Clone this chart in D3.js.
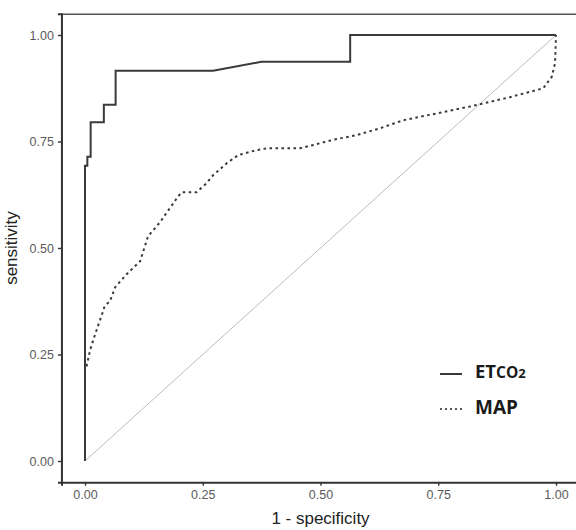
<!DOCTYPE html>
<html>
<head>
<meta charset="utf-8">
<script src="https://cdn.jsdelivr.net/npm/d3@7"></script>
<style>
  body { margin: 0; background: #fff; }
  #roc { width: 576px; height: 530px; }
  .tick text { font-family: "Liberation Sans", Arial, sans-serif; }
</style>
</head>
<body>
<div id="roc"></div>
<script>
// ROC data: 1 - specificity vs sensitivity
var etco2Fpr  = [0, 0, 0.005, 0.005, 0.012, 0.012, 0.040, 0.040, 0.065, 0.065, 0.272, 0.374, 0.563, 0.563, 1];
var etco2Sens = [0, 0.693, 0.693, 0.714, 0.714, 0.795, 0.795, 0.836, 0.836, 0.916, 0.916, 0.937, 0.937, 1, 1];

var mapFpr  = [0, 0, 0.003, 0.011, 0.021, 0.032, 0.042, 0.053, 0.064, 0.089, 0.117, 0.134, 0.159, 0.195, 0.205,
               0.237, 0.258, 0.272, 0.301, 0.325, 0.365, 0.386, 0.456, 0.485, 0.527, 0.577, 0.626, 0.676,
               0.747, 0.817, 0.902, 0.973, 0.991, 0.998, 1];
var mapSens = [0, 0.221, 0.221, 0.261, 0.296, 0.331, 0.364, 0.375, 0.408, 0.439, 0.469, 0.528, 0.560, 0.617, 0.631,
               0.631, 0.652, 0.671, 0.699, 0.718, 0.730, 0.734, 0.734, 0.742, 0.754, 0.765, 0.781, 0.800,
               0.816, 0.832, 0.854, 0.875, 0.902, 0.934, 1];

var tickValues = [0, 0.25, 0.5, 0.75, 1];
var legendLabels = ["ETCO2", "MAP"];

var width = 576;
var height = 530;

var margin = { top: 13.7, right: -3.55, bottom: 47.7, left: 61.45 };

var svg = d3.select("#roc").append("svg")
    .attr("width", width)
    .attr("height", height);

var xScale = d3.scaleLinear()
    .domain([-0.05, 1.05])
    .range([margin.left, width - margin.right]);

var yScale = d3.scaleLinear()
    .domain([-0.05, 1.05])
    .range([height - margin.bottom, margin.top]);

var etco2Data = etco2Fpr.map((d, i) => ({ x: d, y: etco2Sens[i] }));
var mapData = mapFpr.map((d, i) => ({ x: d, y: mapSens[i] }));

var line = d3.line()
    .x(d => xScale(d.x))
    .y(d => yScale(d.y));

// top border of the panel
svg.append("line")
    .attr("x1", margin.left)
    .attr("x2", width)
    .attr("y1", margin.top + 0.5)
    .attr("y2", margin.top + 0.5)
    .attr("stroke", "#555")
    .attr("stroke-width", 1.6);

// reference diagonal
svg.append("path")
    .datum([{ x: 0, y: 0 }, { x: 1, y: 1 }])
    .attr("d", line)
    .attr("fill", "none")
    .attr("stroke", "#aaa")
    .attr("stroke-width", 0.8);

svg.append("path")
    .datum(mapData)
    .attr("d", line)
    .attr("fill", "none")
    .attr("stroke", "#3a3a3a")
    .attr("stroke-width", 2)
    .attr("stroke-dasharray", "2.6,3.4");

svg.append("path")
    .datum(etco2Data)
    .attr("d", line)
    .attr("fill", "none")
    .attr("stroke", "#3a3a3a")
    .attr("stroke-width", 2);

// axes
var xAxis = svg.append("g")
    .attr("transform", `translate(0, ${height - margin.bottom})`)
    .call(d3.axisBottom(xScale).tickValues(tickValues).tickFormat(d3.format(".2f")).tickSizeOuter(0).tickSize(3.5).tickPadding(4));

var yAxis = svg.append("g")
    .attr("transform", `translate(${margin.left}, 0)`)
    .call(d3.axisLeft(yScale).tickValues(tickValues).tickFormat(d3.format(".2f")).tickSizeOuter(0).tickSize(3.5).tickPadding(4));

[xAxis, yAxis].forEach(function (g) {
    g.select(".domain").attr("stroke", "#333").attr("stroke-width", 2);
    g.selectAll(".tick line").attr("stroke", "#333").attr("stroke-width", 1.4);
    g.selectAll(".tick text").attr("fill", "#5a5a5a").style("font-size", "12.5px");
});

// axis titles
svg.append("text")
    .attr("x", (xScale(0) + xScale(1)) / 2)
    .attr("y", 524)
    .attr("text-anchor", "middle")
    .style("font-family", "Liberation Sans, Arial, sans-serif")
    .style("font-size", "17px")
    .attr("fill", "#222")
    .text("1 - specificity");

svg.append("text")
    .attr("transform", `translate(17, ${(yScale(0) + yScale(1)) / 2}) rotate(-90)`)
    .attr("text-anchor", "middle")
    .style("font-family", "Liberation Sans, Arial, sans-serif")
    .style("font-size", "17px")
    .attr("fill", "#222")
    .text("sensitivity");

// legend
var legend = svg.append("g")
    .attr("transform", "translate(440, 0)");

legend.append("line")
    .attr("x1", 0).attr("x2", 22)
    .attr("y1", 374).attr("y2", 374)
    .attr("stroke", "#222")
    .attr("stroke-width", 1.8);

legend.append("line")
    .attr("x1", 0).attr("x2", 22)
    .attr("y1", 409).attr("y2", 409)
    .attr("stroke", "#222")
    .attr("stroke-width", 1.6)
    .attr("stroke-dasharray", "2,3");

var etLabel = legend.append("text")
    .attr("x", 35)
    .attr("y", 378)
    .style("font-family", "Open Sans, sans-serif")
    .style("font-weight", "bold")
    .attr("fill", "#1a1a1a");

etLabel.append("tspan").style("font-size", "18.5px").text(legendLabels[0].slice(0, 2));
etLabel.append("tspan").style("font-size", "15.5px").text(legendLabels[0].slice(2, 4));
etLabel.append("tspan").style("font-size", "13px").text(legendLabels[0].slice(4));

legend.append("text")
    .attr("x", 35)
    .attr("y", 414)
    .style("font-family", "Open Sans, sans-serif")
    .style("font-weight", "bold")
    .style("font-size", "19px")
    .attr("fill", "#1a1a1a")
    .text(legendLabels[1]);
</script>
</body>
</html>
